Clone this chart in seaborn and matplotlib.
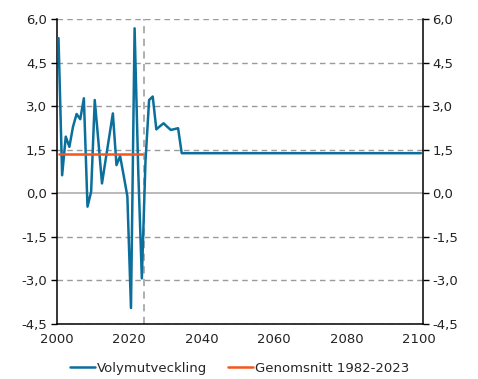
import numpy as np
import pandas as pd
import matplotlib
matplotlib.use("Agg")
import matplotlib.pyplot as plt
import seaborn as sns

# Volume growth, per cent, yearly 2000-2034 and the long-run level thereafter
years_hist = list(range(2000, 2035))
volym_hist = [5.34, 0.62, 1.95, 1.60, 2.29, 2.73, 2.55, 3.27, -0.46, 0.05,
              3.21, 1.80, 0.34, 1.15, 1.95, 2.75, 0.97, 1.28, 0.60, -0.10,
              -3.95, 5.68, 0.80, -2.93, 1.10, 3.21, 3.33, 2.20, 2.31, 2.41,
              2.29, 2.18, 2.21, 2.24, 1.38]
years_long = list(range(2035, 2101))
volym_long_level = 1.38

# Average 1982-2023, shown over the historical years
years_avg = list(range(2000, 2024))
snitt_level = 1.34

y_ticks = [-4.5, -3.0, -1.5, 0.0, 1.5, 3.0, 4.5, 6.0]
x_ticks = list(range(2000, 2101, 10))
prognos_start = 2024

years = years_hist + years_long
volym = volym_hist + [volym_long_level] * len(years_long)

df_vol = pd.DataFrame({"x": np.array(years) + 0.5, "y": volym,
                       "serie": "Volymutveckling"})
df_avg = pd.DataFrame({"x": np.array(years_avg) + 0.5,
                       "y": [snitt_level] * len(years_avg),
                       "serie": "Genomsnitt 1982-2023"})

sns.set_theme(style="white")
plt.rcParams["font.family"] = ["DejaVu Sans"]

fig = plt.figure(figsize=(4.78, 3.79), dpi=100)
ax = fig.add_axes([0.1186, 0.1451, 0.7657, 0.8048])

blue = "#0b6f9c"
orange = "#f4561c"

# grid lines
for t in y_ticks:
    if t == 0:
        ax.axhline(t, color="#b4b4b4", lw=1.3, zorder=1)
    else:
        ax.axhline(t, color="#9a9a9a", lw=1.0, ls=(0, (4, 3)), zorder=1)
ax.axvline(prognos_start, color="#a8a8a8", lw=1.3, ls=(0, (4, 3)), zorder=1)

sns.lineplot(data=df_vol, x="x", y="y", color=blue, lw=1.8, ax=ax,
             label="Volymutveckling", zorder=3)
sns.lineplot(data=df_avg, x="x", y="y", color=orange, lw=1.8, ax=ax,
             label="Genomsnitt 1982-2023", zorder=4)

ax.set_xlim(2000, 2101)
ax.set_ylim(-4.5, 6.0)
ax.set_xlabel("")
ax.set_ylabel("")

ax.set_xticks(x_ticks)
ax.set_xticklabels([str(x) if (x - 2000) % 20 == 0 else "" for x in x_ticks])
ax.set_yticks(y_ticks)
ylabels = [f"{v:.1f}".replace(".", ",") for v in y_ticks]
ax.set_yticklabels(ylabels)

ax.tick_params(axis="x", direction="inout", length=7, width=1, colors="black",
               labelsize=9.5, pad=3)
ax.tick_params(axis="y", direction="out", length=4, width=1, colors="black",
               labelsize=9.5, pad=3, left=True, right=True,
               labelleft=True, labelright=True)
for lab in ax.get_xticklabels() + ax.get_yticklabels():
    lab.set_color("#222222")

for side in ["left", "right", "bottom"]:
    ax.spines[side].set_visible(True)
    ax.spines[side].set_color("black")
    ax.spines[side].set_linewidth(1.1)
ax.spines["top"].set_visible(False)

leg = ax.legend(loc="upper center", bbox_to_anchor=(0.5, -0.085), ncol=2,
                frameon=False, fontsize=9.5, handlelength=1.9,
                handletextpad=0.15, columnspacing=1.6)

fig.savefig("out.png", dpi=100)
